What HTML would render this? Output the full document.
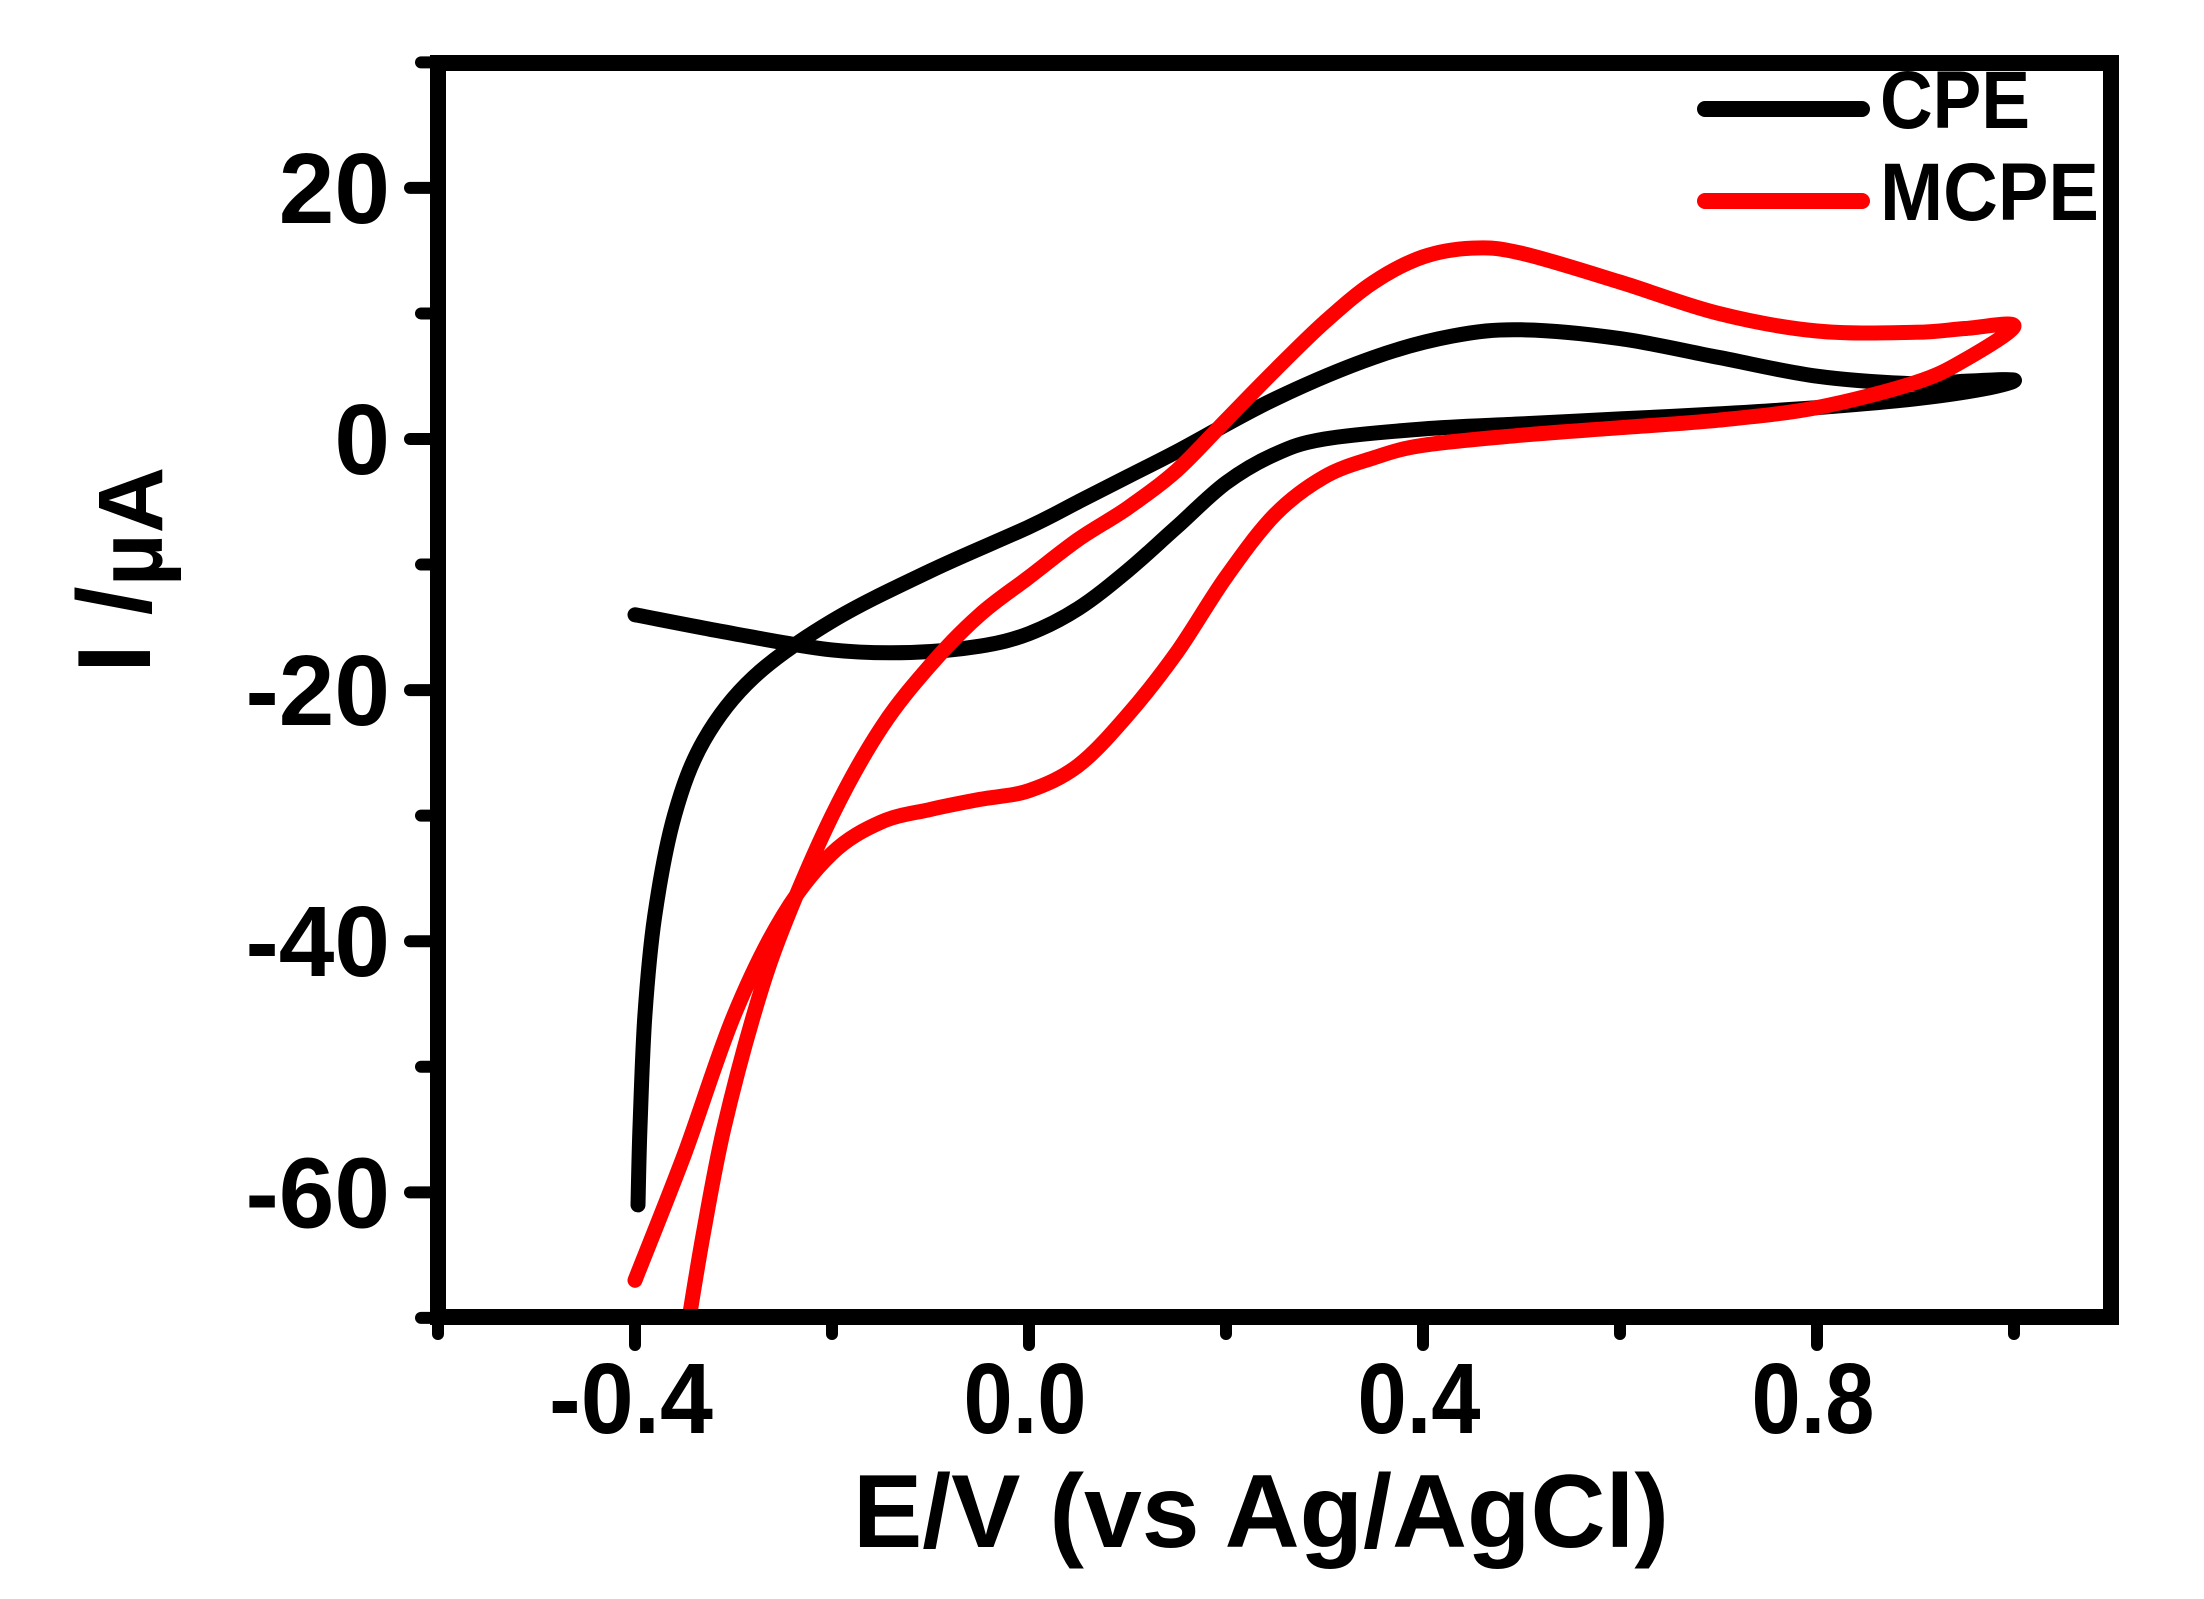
<!DOCTYPE html>
<html><head><meta charset="utf-8"><style>
html,body{margin:0;padding:0;background:#fff;}
svg{display:block;font-family:"Liberation Sans",Arial,sans-serif;font-weight:bold;}
</style></head><body>
<svg id="chart" width="2204" height="1599" viewBox="0 0 2204 1599" xmlns="http://www.w3.org/2000/svg">
<rect x="0" y="0" width="2204" height="1599" fill="#fff"/>
<defs><clipPath id="plotclip"><rect x="438" y="63" width="1673" height="1254"/></clipPath></defs>
<g id="curves" clip-path="url(#plotclip)"></g>
<g id="axes"></g>
<g>
<line x1="1705" y1="109" x2="1862" y2="109" stroke="#000" stroke-width="16" stroke-linecap="round"/>
<text x="1880" y="128" font-size="82" textLength="150" lengthAdjust="spacingAndGlyphs">CPE</text>
<line x1="1705" y1="201" x2="1862" y2="201" stroke="#ff0000" stroke-width="16" stroke-linecap="round"/>
<text x="1880" y="220" font-size="82" textLength="219" lengthAdjust="spacingAndGlyphs">MCPE</text>
</g>
<text x="1261" y="1547" font-size="104" text-anchor="middle" textLength="816" lengthAdjust="spacingAndGlyphs">E/V (vs Ag/AgCl)</text>
<text transform="translate(150,673) rotate(-90)" font-size="104">I /<tspan font-size="92" dy="12">µA</tspan></text>
</svg>
<script>
const xTicks = [-0.4, 0.0, 0.4, 0.8];
const xTickLabels = ["-0.4", "0.0", "0.4", "0.8"];
const xMinor = [-0.6, -0.2, 0.2, 0.6, 1.0];
const yTicks = [20, 0, -20, -40, -60];
const yTickLabels = ["20", "0", "-20", "-40", "-60"];
const yMinor = [30, 10, -10, -30, -50, -70];
const cpeE = [-0.4,-0.3,-0.2,-0.12,-0.05,0.0,0.05,0.1,0.15,0.2,0.25,0.3,0.4,0.5,0.6,0.7,0.8,0.9,0.97,1.0,0.95,0.9,0.8,0.7,0.6,0.5,0.43,0.35,0.25,0.15,0.1,0.05,0.0,-0.1,-0.2,-0.28,-0.33,-0.36,-0.38,-0.39,-0.395,-0.397];
const cpeI = [-14,-15.5,-16.8,-17,-16.5,-15.5,-13.5,-10.5,-7,-3.5,-1.2,0,0.8,1.2,1.6,2,2.5,3.2,4,4.7,4.6,4.4,5,6.5,8,8.7,8.2,6.5,3.2,-1,-3,-5,-7,-10.5,-14.5,-19,-24,-30,-38,-46,-55,-61];
const mcpeE = [-0.4,-0.35,-0.3,-0.25,-0.2,-0.15,-0.1,-0.05,0.0,0.05,0.1,0.15,0.2,0.25,0.3,0.35,0.4,0.5,0.6,0.7,0.8,0.9,0.95,1.0,0.95,0.9,0.8,0.7,0.6,0.5,0.45,0.4,0.35,0.3,0.25,0.2,0.15,0.1,0.05,0.0,-0.05,-0.1,-0.15,-0.2,-0.25,-0.28,-0.31,-0.33,-0.345];
const mcpeI = [-67,-57,-46,-38,-33,-30.5,-29.5,-28.7,-28,-26,-22,-17,-11,-6,-3,-1.5,-0.5,0.3,0.9,1.5,2.5,4.5,6.3,9,8.8,8.5,8.6,10,12.5,14.8,15.2,14.5,12.5,9.3,5.5,1.5,-2.5,-5.5,-8,-11,-14,-18,-23,-30,-39,-46,-55,-63,-70];

const NS = "http://www.w3.org/2000/svg";
function xs(v){ return 1029 + v*985; }
function ys(v){ return 439 - v*12.556; }
function mk(tag, attrs, parent){ const e=document.createElementNS(NS,tag); for(const k in attrs) e.setAttribute(k,attrs[k]); parent.appendChild(e); return e; }
function smoothPath(E, I){
  const p = E.map((e,i)=>[xs(e), ys(I[i])]);
  let d = "M"+p[0][0].toFixed(1)+","+p[0][1].toFixed(1);
  for(let i=0;i<p.length-1;i++){
    const p0=p[Math.max(0,i-1)], p1=p[i], p2=p[i+1], p3=p[Math.min(p.length-1,i+2)];
    const c1=[p1[0]+(p2[0]-p0[0])/6, p1[1]+(p2[1]-p0[1])/6];
    const c2=[p2[0]-(p3[0]-p1[0])/6, p2[1]-(p3[1]-p1[1])/6];
    d += " C"+c1[0].toFixed(1)+","+c1[1].toFixed(1)+" "+c2[0].toFixed(1)+","+c2[1].toFixed(1)+" "+p2[0].toFixed(1)+","+p2[1].toFixed(1);
  }
  return d;
}
const curves = document.getElementById('curves');
const cpe = mk('path', {d: smoothPath(cpeE, cpeI), fill:'none', stroke:'#000', 'stroke-width':15, 'stroke-linecap':'round', 'stroke-linejoin':'round'}, curves);


const mcpe = mk('path', {d: smoothPath(mcpeE, mcpeI), fill:'none', stroke:'#ff0000', 'stroke-width':15, 'stroke-linecap':'round', 'stroke-linejoin':'round'}, curves);



const axes = document.getElementById('axes');
const frame = mk('rect', {x:438, y:63, width:1673, height:1254, fill:'none', stroke:'#000', 'stroke-width':16}, axes);


xTicks.forEach((v,i)=>{
  const t = mk('line', {x1:xs(v), y1:1317, x2:xs(v), y2:1345, stroke:'#000', 'stroke-width':12, 'stroke-linecap':'round'}, axes);
  
  
  const l = mk('text', {x:xs(v)-4, y:1433, 'font-size':100, 'text-anchor':'middle', textLength: xTickLabels[i].length*41, lengthAdjust:'spacingAndGlyphs'}, axes);
  l.textContent = xTickLabels[i];
  
  
});
xMinor.forEach(v=>{
  const t = mk('line', {x1:xs(v), y1:1317, x2:xs(v), y2:1334, stroke:'#000', 'stroke-width':12, 'stroke-linecap':'round'}, axes);
  
  
});
yTicks.forEach((v,i)=>{
  const t = mk('line', {x1:410, y1:ys(v), x2:438, y2:ys(v), stroke:'#000', 'stroke-width':12, 'stroke-linecap':'round'}, axes);
  
  
  const l = mk('text', {x:390, y:ys(v)+35, 'font-size':100, 'text-anchor':'end'}, axes);
  l.textContent = yTickLabels[i];
  
  
});
yMinor.forEach(v=>{
  const t = mk('line', {x1:421, y1:ys(v), x2:438, y2:ys(v), stroke:'#000', 'stroke-width':12, 'stroke-linecap':'round'}, axes);
  
  
});
</script>
</body></html>
